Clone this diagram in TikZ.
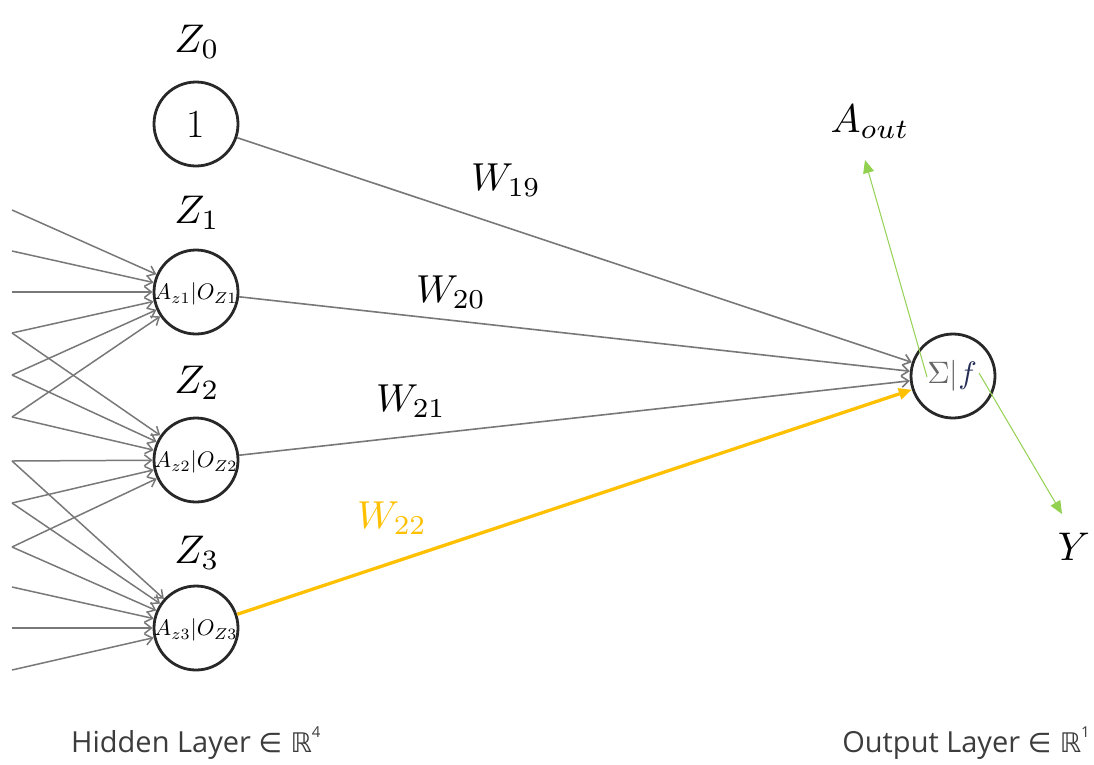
\documentclass[tikz,border=0pt]{standalone}
\usepackage{fontspec}
\usetikzlibrary{arrows.meta,calc}
\newfontfamily\layerfont{Open Sans}
\newfontfamily\symbfont{DejaVu Sans}
\definecolor{edgegray}{RGB}{120,120,120}
\definecolor{ringgray}{RGB}{40,40,40}
\definecolor{wgold}{RGB}{255,192,0}
\definecolor{agreen}{RGB}{146,208,80}
\definecolor{fblue}{RGB}{35,45,85}
\definecolor{layergray}{RGB}{60,60,60}
\newcommand{\mathbig}[2]{\scalebox{#1}{$#2$}}
\begin{document}
\begin{tikzpicture}[x=1pt,y=-1pt,
  neuron/.style={circle,draw=ringgray,line width=2.8pt,minimum size=84pt,inner sep=0pt},
  inedge/.style={draw=edgegray,line width=1.5pt,-{Straight Barb[length=7pt,width=11pt]}},
  outedge/.style={draw=edgegray,line width=1.6pt,-{Straight Barb[length=7pt,width=11pt]}},
  goldedge/.style={draw=wgold,line width=3.3pt,-{Triangle[length=13pt,width=11pt]}},
  greenedge/.style={draw=agreen,line width=1pt,-{Triangle[length=13pt,width=11pt]}},
  plainnode/.style={inner sep=0pt,font=\fontsize{10}{12}\selectfont},
  layertext/.style={font=\layerfont\fontsize{29}{31}\selectfont,text=layergray,inner sep=0pt}
]
\useasboundingbox (0,0) rectangle (1094,764);

% neurons
\node[neuron] (z0) at (196,124) {};
\node[neuron] (h1) at (196,292) {};
\node[neuron] (h2) at (196,460) {};
\node[neuron] (h3) at (196,628) {};
\node[neuron] (out) at (953,376) {};

% neuron texts
\node[inner sep=0pt,font=\fontsize{40}{42}\selectfont] (t0) at (196,124) {1};
\node[plainnode] (t1) at (196,294) {\mathbig{2.25}{A_{z1}|O_{Z1}}};
\node[plainnode] (t2) at (196,462) {\mathbig{2.25}{A_{z2}|O_{Z2}}};
\node[plainnode] (t3) at (196,630) {\mathbig{2.25}{A_{z3}|O_{Z3}}};
\node[plainnode] (tout) at (952,376) {\scalebox{3.1}{\textcolor{black!60}{$\Sigma|$}\textcolor{fblue}{$f$}}};

% neuron labels
\node[plainnode] (lz0) at (197,42) {\mathbig{4}{Z_0}};
\node[plainnode] (lz1) at (197,213) {\mathbig{4}{Z_1}};
\node[plainnode] (lz2) at (197,383) {\mathbig{4}{Z_2}};
\node[plainnode] (lz3) at (197,553) {\mathbig{4}{Z_3}};

% input stubs
\foreach \n/\yy in {1/210,2/251,3/292,4/333,5/375,6/417,7/461,8/503,9/547,10/587,11/628,12/670}
  \coordinate (i\n) at (12,\yy);
\foreach \n in {1,...,6} \draw[inedge] (i\n) -- (h1);
\foreach \n in {4,...,9} \draw[inedge] (i\n) -- (h2);
\foreach \n in {7,...,12} \draw[inedge] (i\n) -- (h3);

% hidden to output
\draw[outedge] (z0) -- (out);
\draw[outedge] (h1) -- (out);
\draw[outedge] (h2) -- (out);
\draw[goldedge] (h3) -- (out);

% weight labels
\node[plainnode] (w19) at (506,180) {\mathbig{3.9}{W_{19}}};
\node[plainnode] (w20) at (451,292) {\mathbig{3.9}{W_{20}}};
\node[plainnode] (w21) at (411,401) {\mathbig{3.9}{W_{21}}};
\node[plainnode,text=wgold] (w22) at (392,518) {\mathbig{3.9}{W_{22}}};

% output arrows
\coordinate (ga) at (927,377);
\coordinate (gaend) at (865,160);
\coordinate (gy) at (979,373);
\coordinate (gyend) at (1062,514);
\draw[greenedge] (ga) -- (gaend);
\draw[greenedge] (gy) -- (gyend);
\node[plainnode] (aout) at (870,122) {\mathbig{4}{A_{out}}};
\node[plainnode] (ylab) at (1074,547) {\mathbig{4}{Y}};

% layer captions
\node[layertext,anchor=base west] (hl) at (71,752) {Hidden Layer {\symbfont\fontsize{27}{29}\selectfont ∈ ℝ}\raisebox{0.5em}{\fontsize{15}{16}\selectfont 4}};
\node[layertext,anchor=base east] (ol) at (1090,752) {Output Layer {\symbfont\fontsize{27}{29}\selectfont ∈ ℝ}\raisebox{0.5em}{\fontsize{15}{16}\selectfont 1}};
\end{tikzpicture}
\end{document}
